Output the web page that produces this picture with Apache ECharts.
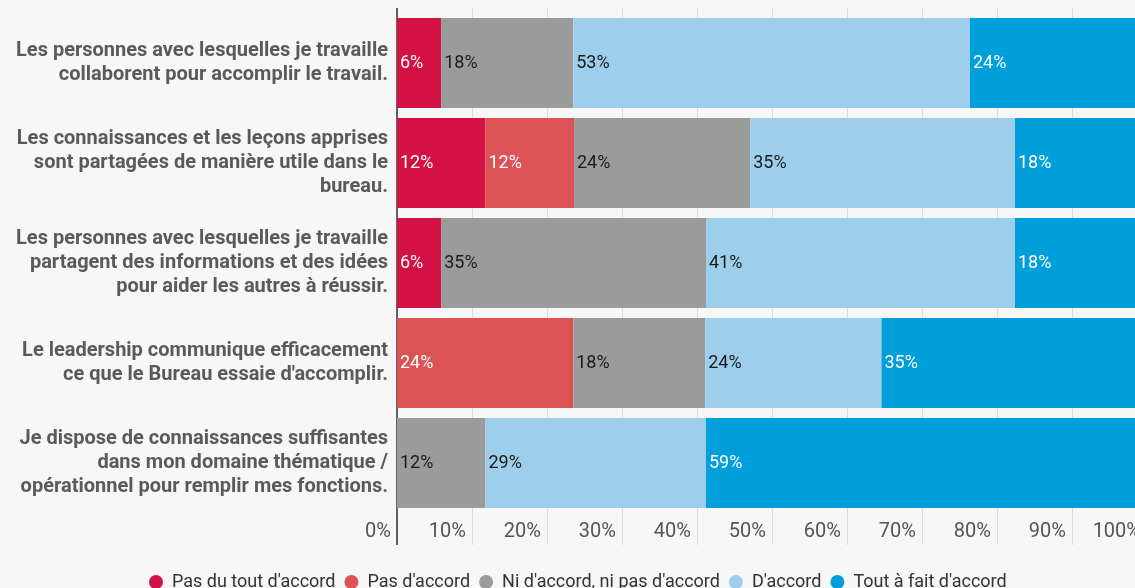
<!DOCTYPE html>
<html>
<head>
<meta charset="utf-8">
<script src="https://cdn.jsdelivr.net/npm/echarts@6/dist/echarts.min.js"></script>
<style>
html,body{margin:0;padding:0;background:#f7f7f7;}
#main{width:1135px;height:588px;}
</style>
</head>
<body>
<div id="main"></div>
<script>
// categories (top to bottom)
var categories = [
	'Les personnes avec lesquelles je travaille\ncollaborent pour accomplir le travail.',
	'Les connaissances et les leçons apprises\nsont partagées de manière utile dans le\nbureau.',
	'Les personnes avec lesquelles je travaille\npartagent des informations et des idées\npour aider les autres à réussir.',
	'Le leadership communique efficacement\nce que le Bureau essaie d\'accomplir.',
	'Je dispose de connaissances suffisantes\ndans mon domaine thématique /\nopérationnel pour remplir mes fonctions.'
];
var seriesNames = ['Pas du tout d\'accord', 'Pas d\'accord', 'Ni d\'accord, ni pas d\'accord', 'D\'accord', 'Tout à fait d\'accord'];
// values in %
var pasDuTout = [5.9, 11.8, 5.9, 0, 0];
var pasDaccord = [0, 11.8, 0, 23.5, 0];
var niNi = [17.6, 23.5, 35.3, 17.6, 11.8];
var daccord = [52.9, 35.3, 41.2, 23.5, 29.4];
var toutAFait = [23.5, 17.6, 17.6, 35.3, 58.8];
var tickLabels = ['0%', '10%', '20%', '30%', '40%', '50%', '60%', '70%', '80%', '90%', '100%'];

var colors = ['#d31145', '#dc5356', '#9b9b9b', '#9dcfec', '#009edb'];
var labelColors = ['#fff', '#fff', '#1a1a1a', '#1a1a1a', '#fff'];
var allData = [pasDuTout, pasDaccord, niNi, daccord, toutAFait];

var series = allData.map(function(d, i){
	return {
		name: seriesNames[i],
		type: 'bar',
		stack: 'total',
		xAxisIndex: 0,
		barCategoryGap: '10%',
		data: d,
		itemStyle: {color: colors[i]},
		label: {
			show: true,
			position: 'insideLeft',
			distance: 3,
			color: labelColors[i],
			fontSize: 18,
			fontFamily: 'Roboto',
			formatter: function(p){
				return p.value > 0 ? Math.round(p.value) + '%' : '';
			}
		},
		emphasis: {disabled: true}
	};
});

// extra tick-only axes (extend grid lines / axis line above and below the plot)
function tickAxis(pos, interval, len, color, width){
	return {
		type: 'value',
		position: pos,
		min: 0,
		max: 100,
		interval: interval,
		axisLine: {show: false},
		axisLabel: {show: false},
		splitLine: {show: false},
		axisTick: {show: true, length: len, lineStyle: {color: color, width: width}}
	};
}

var chart = echarts.init(document.getElementById('main'));
chart.setOption({
	backgroundColor: '#f7f7f7',
	animation: false,
	textStyle: {fontFamily: 'Roboto'},
	grid: {left: 397, top: 13, width: 750, height: 500, containLabel: false, outerBoundsMode: 'none'},
	legend: {
		left: 144,
		top: 568,
		icon: 'circle',
		itemWidth: 22,
		itemHeight: 14,
		itemGap: 9,
		textStyle: {fontSize: 18, color: '#333', fontFamily: 'Roboto'},
		data: seriesNames
	},
	xAxis: [{
		type: 'value',
		min: 0,
		max: 100,
		interval: 10,
		axisLine: {show: false},
		axisTick: {show: true, length: 32, lineStyle: {color: '#dedede'}},
		splitLine: {show: true, lineStyle: {color: '#dedede', width: 1}},
		axisLabel: {
			formatter: function(v){ return tickLabels[Math.round(v / 10)]; },
			align: 'right',
			padding: [0, 6, 0, 0],
			margin: 9,
			fontSize: 20,
			color: '#555',
			fontFamily: 'Roboto'
		}
	},
		tickAxis('bottom', 100, 32, '#333', 1.5),
		tickAxis('top', 10, 5, '#dedede', 1),
		tickAxis('top', 100, 5, '#333', 1.5)
	],
	yAxis: {
		type: 'category',
		inverse: true,
		data: categories,
		axisLine: {show: true, lineStyle: {color: '#333', width: 1.5}},
		axisTick: {show: false},
		axisLabel: {
			margin: 9,
			fontSize: 20,
			lineHeight: 24,
			fontWeight: 'bold',
			color: '#5a5a5a',
			align: 'right',
			fontFamily: 'Roboto'
		}
	},
	series: series
});
</script>
</body>
</html>
